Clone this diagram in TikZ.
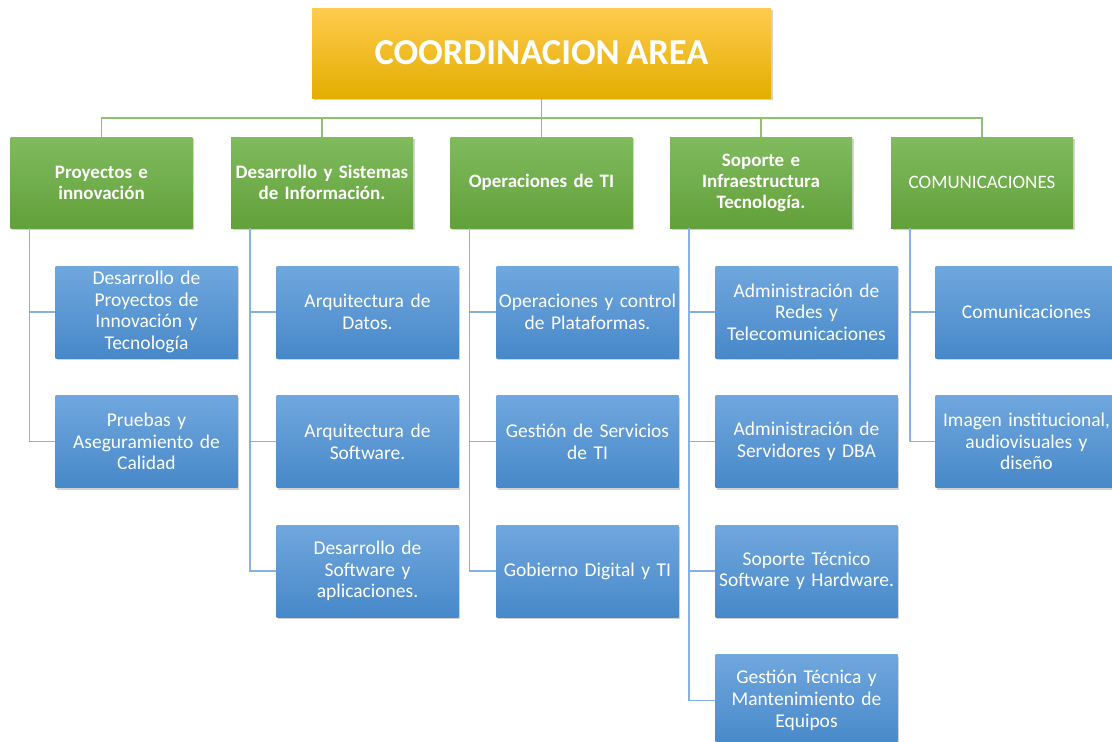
\documentclass[tikz,border=0pt]{standalone}
\usepackage{fontspec}
\setmainfont[WordSpace=0.8]{Carlito}
\usetikzlibrary{shadows}
\definecolor{goldtop}{HTML}{FFCB4E}
\definecolor{goldbot}{HTML}{E3AE00}
\definecolor{greentop}{HTML}{80BB5E}
\definecolor{greenbot}{HTML}{62A03A}
\definecolor{bluetop}{HTML}{70A7DE}
\definecolor{bluebot}{HTML}{4788C9}
\definecolor{greenline}{HTML}{8DC26F}
\definecolor{blueline}{HTML}{84B3E3}

\begin{document}
\begin{tikzpicture}[x=1pt,y=1pt,
  boxbase/.style={rectangle, text=white, align=center, inner sep=1pt,
    drop shadow={shadow xshift=1.5pt, shadow yshift=-2pt, opacity=0.35}},
  headbox/.style={boxbase, minimum width=459pt, minimum height=90pt,
    top color=goldtop, bottom color=goldbot, font=\fontsize{36.5}{42}\selectfont\bfseries},
  areabox/.style={boxbase, minimum width=182pt, minimum height=91pt, text width=180pt,
    top color=greentop, bottom color=greenbot, font=\fontsize{19}{21}\selectfont\bfseries},
  unitbox/.style={boxbase, minimum width=181pt, minimum height=92pt, text width=180pt,
    top color=bluetop, bottom color=bluebot, font=\fontsize{19.5}{21.7}\selectfont},
  gline/.style={greenline, line width=1.5pt},
  bline/.style={blueline, line width=1.5pt}]
\useasboundingbox (0,0) rectangle (1112,-742);
\node[headbox] (top) at (541.5,-53) {COORDINACION AREA};
\node[areabox] (g1) at (101.5,-182.5) {Proyectos e\\innovación};
\node[areabox] (g2) at (322,-182.5) {Desarrollo y Sistemas\\de Información.};
\node[areabox] (g3) at (541.5,-182.5) {Operaciones de TI};
\node[areabox] (g4) at (761,-182.5) {Soporte e\\Infraestructura\\Tecnología.};
\node[areabox, font=\fontsize{19}{21}\selectfont] (g5) at (982,-182.5) {COMUNICACIONES};
\foreach \g in {g1,g2,g3,g4,g5}
  \draw[gline] (top.south) -- ([yshift=-20pt]top.south) -| (\g.north);
\node[unitbox] (b11) at (146.5,-312) {Desarrollo de\\Proyectos de\\Innovación y\\Tecnología};
\node[unitbox] (b12) at (146.5,-441.5) {Pruebas y\\Aseguramiento de\\Calidad};
\node[unitbox] (b21) at (367.5,-312) {Arquitectura de\\Datos.};
\node[unitbox] (b22) at (367.5,-441.5) {Arquitectura de\\Software.};
\node[unitbox] (b23) at (367.5,-571) {Desarrollo de\\Software y\\aplicaciones.};
\node[unitbox] (b31) at (587.5,-312) {Operaciones y control\\de Plataformas.};
\node[unitbox] (b32) at (587.5,-441.5) {Gestión de Servicios\\de TI};
\node[unitbox] (b33) at (587.5,-571) {Gobierno Digital y TI};
\node[unitbox] (b41) at (806.5,-312) {Administración de\\Redes y\\Telecomunicaciones};
\node[unitbox] (b42) at (806.5,-441.5) {Administración de\\Servidores y DBA};
\node[unitbox] (b43) at (806.5,-571) {Soporte Técnico\\Software y Hardware.};
\node[unitbox] (b44) at (806.5,-700.5) {Gestión Técnica y\\Mantenimiento de\\Equipos};
\node[unitbox] (b51) at (1026.5,-312) {Comunicaciones};
\node[unitbox] (b52) at (1026.5,-441.5) {Imagen institucional,\\audiovisuales y\\diseño};
\begin{scope}[on background layer/.try]
\foreach \b in {b11,b12}
  \draw[bline] ([xshift=19pt]g1.south west) |- (\b.west);
\foreach \b in {b21,b22,b23}
  \draw[bline] ([xshift=19pt]g2.south west) |- (\b.west);
\foreach \b in {b31,b32,b33}
  \draw[bline] ([xshift=19pt]g3.south west) |- (\b.west);
\foreach \b in {b41,b42,b43,b44}
  \draw[bline] ([xshift=19pt]g4.south west) |- (\b.west);
\foreach \b in {b51,b52}
  \draw[bline] ([xshift=19pt]g5.south west) |- (\b.west);
\end{scope}
\end{tikzpicture}
\end{document}
